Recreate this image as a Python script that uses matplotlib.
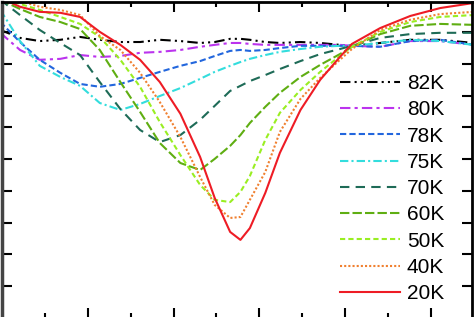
import matplotlib
matplotlib.use("Agg")
import matplotlib.pyplot as plt

# shared x grid (arbitrary units, majors at 1..5)
x = [-0.02, 0.21, 0.44, 0.68, 0.91, 1.14, 1.38, 1.61, 1.84, 2.08, 2.31, 2.48,
     2.66, 2.78, 2.89, 3.07, 3.24, 3.48, 3.71, 3.94, 4.08, 4.41, 4.76, 5.11, 5.50]

y_82K = [9.07, 8.82, 8.72, 8.76, 8.85, 8.76, 8.69, 8.69, 8.76, 8.72, 8.66, 8.69,
         8.79, 8.79, 8.76, 8.69, 8.66, 8.69, 8.66, 8.60, 8.57, 8.66, 8.76, 8.76, 8.66]
y_80K = [8.98, 8.44, 8.13, 8.16, 8.28, 8.22, 8.25, 8.35, 8.38, 8.44, 8.54, 8.60,
         8.66, 8.66, 8.63, 8.60, 8.60, 8.60, 8.60, 8.60, 8.57, 8.54, 8.72, 8.72, 8.60]
y_78K = [9.32, 8.69, 8.13, 7.72, 7.37, 7.28, 7.37, 7.56, 7.75, 7.94, 8.09, 8.25,
         8.41, 8.44, 8.41, 8.44, 8.50, 8.57, 8.57, 8.57, 8.57, 8.54, 8.72, 8.76, 8.60]
y_75K = [9.70, 8.72, 7.94, 7.59, 7.31, 6.77, 6.55, 6.74, 6.99, 7.24, 7.53, 7.75,
         7.94, 8.06, 8.16, 8.28, 8.38, 8.47, 8.54, 8.57, 8.57, 8.66, 8.76, 8.72, 8.60]
y_70K = [10.02, 9.54, 9.07, 8.66, 8.28, 7.43, 6.58, 5.92, 5.54, 5.76, 6.24, 6.68,
         7.15, 7.31, 7.46, 7.65, 7.84, 8.09, 8.31, 8.47, 8.57, 8.82, 8.94, 8.98, 8.98]
y_60K = [10.02, 9.73, 9.48, 9.32, 9.10, 8.44, 7.43, 6.49, 5.51, 4.88, 4.66, 5.01,
         5.42, 5.76, 6.14, 6.65, 7.09, 7.59, 7.97, 8.31, 8.54, 8.94, 9.20, 9.26, 9.23]
y_50K = [10.11, 9.89, 9.70, 9.48, 9.26, 8.85, 8.13, 7.28, 6.17, 5.13, 4.19, 3.72,
         3.65, 3.97, 4.47, 5.61, 6.46, 7.18, 7.75, 8.25, 8.54, 9.01, 9.32, 9.48, 9.54]
y_40K = [10.17, 9.98, 9.80, 9.70, 9.54, 8.88, 8.44, 7.72, 6.80, 5.70, 4.44, 3.56,
         3.15, 3.18, 3.72, 4.60, 5.86, 6.90, 7.56, 8.13, 8.47, 9.07, 9.39, 9.57, 9.64]
y_20K = [10.08, 9.80, 9.64, 9.61, 9.48, 9.01, 8.60, 8.13, 7.43, 6.43, 5.07, 3.78,
         2.71, 2.46, 2.83, 3.94, 5.20, 6.55, 7.50, 8.22, 8.63, 9.13, 9.51, 9.76, 9.92]

labels = ["82K", "80K", "78K", "75K", "70K", "60K", "50K", "40K", "20K"]
series = [y_82K, y_80K, y_78K, y_75K, y_70K, y_60K, y_50K, y_40K, y_20K]
colors = ["#000000", "#bb33ee", "#2266dd", "#33dddd", "#1e6b57",
          "#5fae12", "#99ee22", "#f08030", "#ee1c25"]
styles = [(0, (5, 2, 1, 2, 1, 2)), (0, (5, 2, 1.5, 2)), (0, (3, 1.5)),
          (0, (4, 1.5, 1, 1.5)), (0, (4.5, 3)), (0, (4.5, 1.5)),
          (0, (2.5, 1.5)), (0, (1, 1)), "-"]

plt.rcParams["font.family"] = ["Liberation Sans", "DejaVu Sans"]

fig = plt.figure(figsize=(4.74, 3.17), dpi=100)
ax = fig.add_axes([2 / 474, -1 / 317, 470 / 474, 316 / 317])

for ys, lab, c, ls in zip(series, labels, colors, styles):
    ax.plot(x, ys, color=c, linestyle=ls, linewidth=1.5, label=lab)

ax.set_xlim(0, 5.48)
ax.set_ylim(0, 9.95)
ax.set_xticks([1, 2, 3, 4, 5])
ax.set_xticks([0.5, 1.5, 2.5, 3.5, 4.5], minor=True)
ax.set_yticks(range(1, 10))
ax.tick_params(which="both", direction="in", top=True, right=True,
               labelbottom=False, labelleft=False, width=1.5)
ax.tick_params(which="major", length=7)
ax.tick_params(which="minor", length=3.5)
for side in ["top", "right", "bottom"]:
    ax.spines[side].set_linewidth(2)
ax.spines["left"].set_linewidth(2.5)
ax.spines["left"].set_color("#444444")

ax.legend(loc="upper left", bbox_to_anchor=(340 / 474, 1 - 74 / 317),
          bbox_transform=fig.transFigure, frameon=False, fontsize=15,
          handlelength=2.9, handletextpad=0.3, labelspacing=0.35,
          borderpad=0, borderaxespad=0)

fig.savefig("out.png", dpi=100)
plt.close(fig)
